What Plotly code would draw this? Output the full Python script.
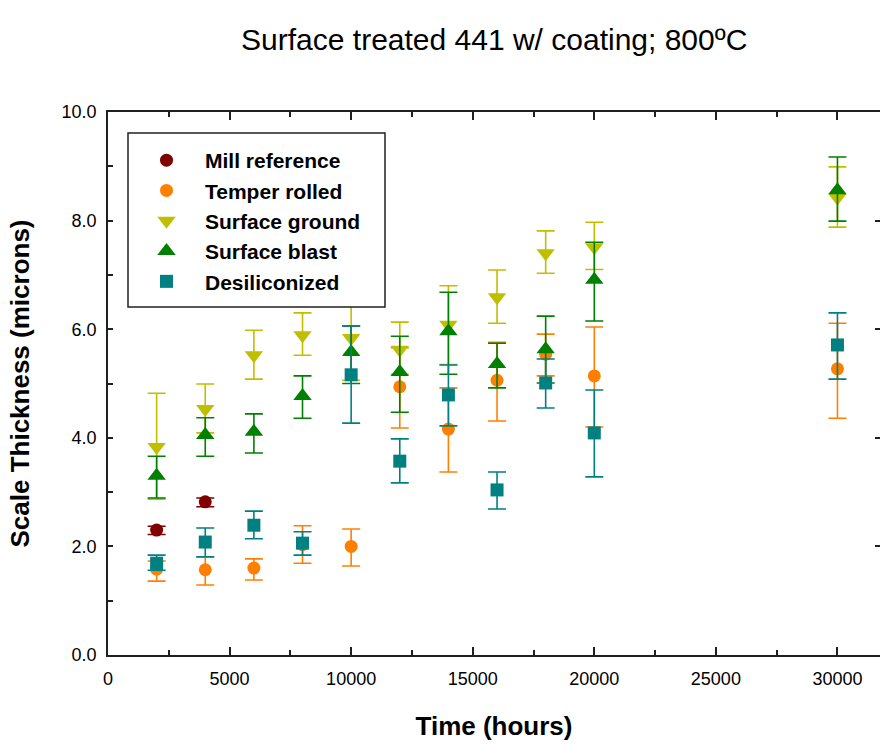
import plotly.graph_objects as go

hours = [2000, 4000, 6000, 8000, 10000, 12000, 14000, 16000, 18000, 20000, 30000]

mill_x = [2000, 4000]
mill_y = [2.30, 2.82]
mill_hi = [2.37, 2.89]
mill_lo = [2.22, 2.73]

temper_y = [1.58, 1.57, 1.60, 2.03, 2.00, 4.94, 4.16, 5.06, 5.54, 5.14, 5.27]
temper_hi = [1.73, 1.80, 1.77, 2.38, 2.32, 5.66, 4.92, 5.76, 5.91, 6.04, 6.11]
temper_lo = [1.36, 1.29, 1.38, 1.69, 1.64, 4.18, 3.37, 4.31, 5.14, 4.20, 4.36]

ground_y = [3.83, 4.53, 5.52, 5.89, 5.84, 5.62, 6.08, 6.59, 7.40, 7.51, 8.42]
ground_hi = [4.82, 4.99, 5.98, 6.30, 6.60, 6.13, 6.80, 7.09, 7.81, 7.97, 8.99]
ground_lo = [2.87, 4.09, 5.08, 5.52, 5.06, 5.17, 5.35, 6.11, 7.03, 7.10, 7.88]

blast_y = [3.30, 4.05, 4.11, 4.77, 5.58, 5.21, 5.96, 5.36, 5.63, 6.91, 8.56]
blast_hi = [3.66, 4.37, 4.44, 5.14, 6.06, 5.87, 6.68, 5.74, 6.24, 7.60, 9.17]
blast_lo = [2.89, 3.66, 3.72, 4.36, 5.00, 4.47, 5.17, 4.92, 5.01, 6.15, 7.99]

desil_y = [1.69, 2.08, 2.39, 2.06, 5.16, 3.57, 4.79, 3.04, 5.01, 4.09, 5.71]
desil_hi = [1.84, 2.34, 2.65, 2.27, 6.06, 3.98, 5.34, 3.37, 5.45, 4.88, 6.30]
desil_lo = [1.56, 1.81, 2.14, 1.84, 4.27, 3.17, 4.22, 2.69, 4.55, 3.28, 5.08]

FONT = "Liberation Sans, Arial, sans-serif"

series = [
    ("Mill reference", mill_x, mill_y, mill_hi, mill_lo, "#800000", "circle", 13),
    ("Temper rolled", hours, temper_y, temper_hi, temper_lo, "#FF8000", "circle", 13),
    ("Surface ground", hours, ground_y, ground_hi, ground_lo, "#BFBF00", "triangle-down", 16),
    ("Surface blast", hours, blast_y, blast_hi, blast_lo, "#008000", "triangle-up", 16),
    ("Desiliconized", hours, desil_y, desil_hi, desil_lo, "#008080", "square", 13),
]

fig = go.Figure()
for name, xs, ys, hi, lo, color, sym, size in series:
    fig.add_trace(go.Scatter(
        x=xs, y=ys, name=name, mode="markers",
        marker=dict(color=color, symbol=sym, size=size, line=dict(width=0)),
        error_y=dict(type="data", symmetric=False,
                     array=[h - v for h, v in zip(hi, ys)],
                     arrayminus=[v - l for v, l in zip(ys, lo)],
                     color=color, thickness=1.6, width=9),
    ))

# helper trace for the right-side tick axis
fig.add_trace(go.Scatter(x=[None], y=[None], yaxis="y2", showlegend=False, hoverinfo="skip"))

# legend frame (plot area: x 108..880, y 112..655 px)
PW, PH = 772.0, 543.0
fig.add_shape(type="rect", xref="paper", yref="paper",
              x0=(128 - 108) / PW, x1=(385 - 108) / PW,
              y0=(655 - 307) / PH, y1=(655 - 133) / PH,
              line=dict(color="#202020", width=1.5), fillcolor="white", layer="above")

fig.update_layout(
    width=881, height=746,
    margin=dict(l=108, r=1, t=112, b=91),
    paper_bgcolor="white", plot_bgcolor="white",
    font=dict(family=FONT, color="black", size=18),
    title=dict(text="Surface treated 441 w/ coating; 800ºC", x=0.561, xanchor="center",
               y=1 - 39 / 746, yanchor="middle", yref="container",
               font=dict(size=30, family=FONT, color="black")),
    showlegend=True,
    legend=dict(x=(128 - 108) / PW, y=(655 - 140) / PH, xanchor="left", yanchor="top",
                bgcolor="rgba(0,0,0,0)", borderwidth=0,
                font=dict(size=21, family=FONT, color="black", weight="bold"),
                itemwidth=67, tracegroupgap=0),
    xaxis=dict(range=[0, 31750], tickvals=[0, 5000, 10000, 15000, 20000, 25000, 30000],
               tickformat="d", ticks="inside", ticklen=8, tickwidth=1.5, tickcolor="#202020",
               minor=dict(dtick=2500, ticks="inside", ticklen=5, tickwidth=1.5, tickcolor="#202020"),
               showline=True, linecolor="#202020", linewidth=1.5, mirror="ticks",
               showgrid=False, zeroline=False, ticklabelstandoff=7,
               tickfont=dict(size=18, family=FONT),
               title=dict(text="<b>Time (hours)</b>", font=dict(size=26, family=FONT), standoff=28)),
    yaxis=dict(range=[0, 10], dtick=2, tickformat=".1f", ticks="inside", ticklen=5,
               tickwidth=1.5, tickcolor="#202020",
               minor=dict(dtick=1, ticks="inside", ticklen=5, tickwidth=1.5, tickcolor="#202020"),
               showline=True, linecolor="#202020", linewidth=1.5, mirror=False,
               showgrid=False, zeroline=False, ticklabelstandoff=6,
               tickfont=dict(size=18, family=FONT),
               title=dict(text="<b>Scale Thickness (microns)</b>", font=dict(size=26, family=FONT), standoff=25)),
    yaxis2=dict(range=[0, 10], dtick=2, overlaying="y", side="right", ticks="inside", ticklen=5,
                tickwidth=1.5, tickcolor="#202020", showticklabels=False, showline=False,
                showgrid=False, zeroline=False),
)

fig.write_html("out.html")
